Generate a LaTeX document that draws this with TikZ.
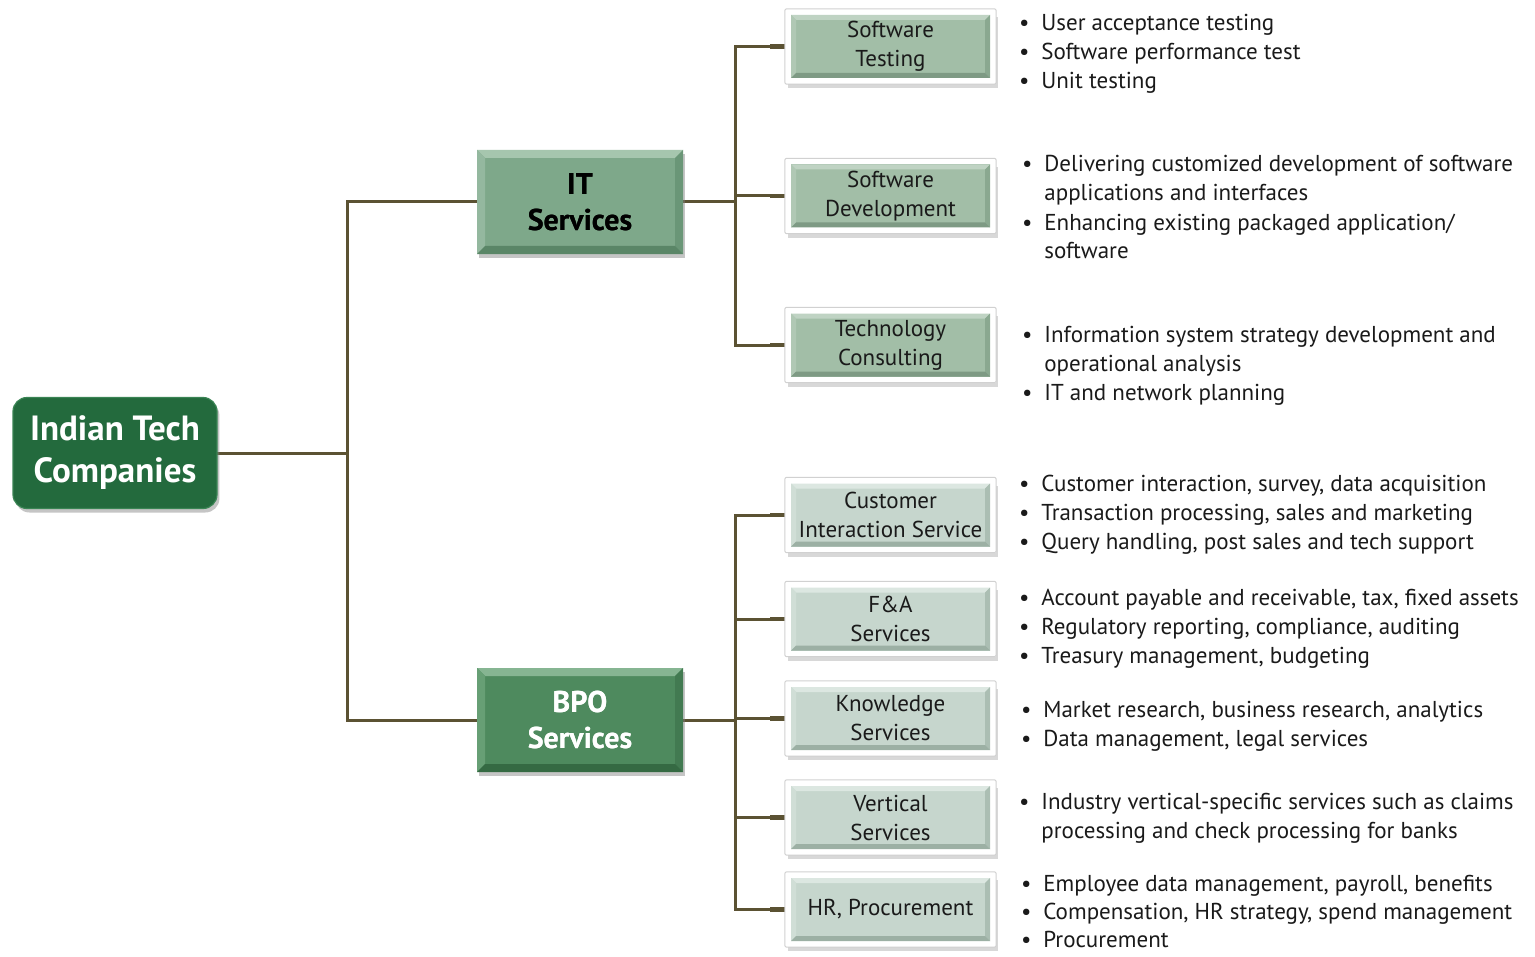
\documentclass[tikz,border=0pt]{standalone}
\usepackage{fontspec}
\setmainfont{PT Sans}
\usetikzlibrary{shadows}
\definecolor{linec}{HTML}{5B5233}
\definecolor{rootc}{HTML}{236A3D}
\definecolor{rootl}{HTML}{3A8454}
\definecolor{itc}{HTML}{7EA88A}
\definecolor{itt}{HTML}{A6C6AE}
\definecolor{itl}{HTML}{94B89F}
\definecolor{itr}{HTML}{6A9677}
\definecolor{itb}{HTML}{5A8667}
\definecolor{bpoc}{HTML}{4E8A5E}
\definecolor{bpot}{HTML}{86B592}
\definecolor{bpol}{HTML}{679F75}
\definecolor{bpor}{HTML}{427A51}
\definecolor{bpob}{HTML}{356A43}
\definecolor{lfa}{HTML}{A2BEA7}
\definecolor{lfat}{HTML}{BFD3C3}
\definecolor{lfal}{HTML}{B0C8B4}
\definecolor{lfar}{HTML}{8AA890}
\definecolor{lfab}{HTML}{7E9A84}
\definecolor{lfb}{HTML}{C6D6CD}
\definecolor{lfbt}{HTML}{DCE7E1}
\definecolor{lfbl}{HTML}{D0DED6}
\definecolor{lfbr}{HTML}{ABBEB3}
\definecolor{lfbb}{HTML}{9CB0A4}
\definecolor{txt}{HTML}{1A1A1A}
\pgfdeclarelayer{bg}
\pgfdeclarelayer{bgbg}
\pgfsetlayers{bgbg,bg,main}
% bevel: #1 node, #2 outer inset, #3 inner inset, #4 top, #5 left, #6 right, #7 bottom
\newcommand\bevelbox[7]{%
  \fill[#4] ([xshift=#2,yshift=-#2]#1.north west) -- ([xshift=-#2,yshift=-#2]#1.north east)
    -- ([xshift=-#3,yshift=-#3]#1.north east) -- ([xshift=#3,yshift=-#3]#1.north west) -- cycle;
  \fill[#5] ([xshift=#2,yshift=-#2]#1.north west) -- ([xshift=#3,yshift=-#3]#1.north west)
    -- ([xshift=#3,yshift=#3]#1.south west) -- ([xshift=#2,yshift=#2]#1.south west) -- cycle;
  \fill[#6] ([xshift=-#2,yshift=-#2]#1.north east) -- ([xshift=-#3,yshift=-#3]#1.north east)
    -- ([xshift=-#3,yshift=#3]#1.south east) -- ([xshift=-#2,yshift=#2]#1.south east) -- cycle;
  \fill[#7] ([xshift=#2,yshift=#2]#1.south west) -- ([xshift=-#2,yshift=#2]#1.south east)
    -- ([xshift=-#3,yshift=#3]#1.south east) -- ([xshift=#3,yshift=#3]#1.south west) -- cycle;
}
\newcommand\leafedge[1]{%
  \draw[black!18,line width=0.5pt,rounded corners=1pt] ([xshift=-1.6pt,yshift=1.6pt]#1.north west)
    rectangle ([xshift=1.6pt,yshift=-1.6pt]#1.south east);
}
\newcommand\blist[1]{\begin{tabular}[t]{@{}l@{\hspace{6pt}}l@{}}#1\end{tabular}}
\begin{document}
\begin{tikzpicture}[x=0.5pt,y=-0.5pt,
  conn/.style={draw=linec,line width=1.5pt},
  stub/.style={draw=linec,line width=2.4pt},
  shad/.style={drop shadow={opacity=0.45,shadow xshift=1.2pt,shadow yshift=-2pt}},
  lshad/.style={drop shadow={opacity=0.3,shadow xshift=1.2pt,shadow yshift=-3pt,shadow scale=1.025}},
  rootbox/.style={shape=rectangle,rounded corners=7pt,fill=rootc,draw=rootl,line width=0.6pt,
    minimum width=102pt,minimum height=55.5pt,inner sep=0pt,outer sep=0pt,text=white,
    font=\fontsize{17.5}{21}\selectfont\bfseries,align=center,shad},
  midbox/.style={shape=rectangle,minimum width=103pt,minimum height=52pt,inner sep=0pt,
    outer sep=0pt,font=\fontsize{15}{18}\selectfont\bfseries,align=center,shad},
  leaf/.style={shape=rectangle,draw=white,line width=3pt,minimum width=102.5pt,
    minimum height=34.5pt,inner sep=0pt,outer sep=0pt,text=txt,
    font=\fontsize{11.5}{14.5}\selectfont,align=center,lshad},
  bul/.style={anchor=base west,inner sep=0pt,outer sep=0pt,text=txt,
    font=\fontsize{11.5}{14.5}\selectfont}
]
\begin{pgfonlayer}{bgbg}
\fill[white] (0,0) rectangle (1535,957);
\end{pgfonlayer}
\useasboundingbox (0,0) rectangle (1535,957);

% nodes
\node[rootbox] (root) at (115,453) {Indian Tech\\Companies};
\node[midbox,fill=itc,text=black] (it) at (580,202) {IT\\Services};
\node[midbox,fill=bpoc,text=white] (bpo) at (580,720) {BPO\\Services};

\node[leaf,fill=lfa] (st) at (890.5,46.5) {Software\\Testing};
\node[leaf,fill=lfa] (sd) at (890.5,196) {Software\\Development};
\node[leaf,fill=lfa] (tc) at (890.5,345) {Technology\\Consulting};
\node[leaf,fill=lfb] (ci) at (890.5,515) {Customer\\Interaction Service};
\node[leaf,fill=lfb] (fa) at (890.5,619) {F\&A\\Services};
\node[leaf,fill=lfb] (ks) at (890.5,718.5) {Knowledge\\Services};
\node[leaf,fill=lfb] (vs) at (890.5,817.5) {Vertical\\Services};
\node[leaf,fill=lfb] (hr) at (890.5,909.5) {HR, Procurement};

% bevels
\bevelbox{it}{0pt}{4pt}{itt}{itl}{itr}{itb}
\bevelbox{bpo}{0pt}{4pt}{bpot}{bpol}{bpor}{bpob}
\foreach \n in {st,sd,tc}{\bevelbox{\n}{1.5pt}{4pt}{lfat}{lfal}{lfar}{lfab}\leafedge{\n}}
\foreach \n in {ci,fa,ks,vs,hr}{\bevelbox{\n}{1.5pt}{4pt}{lfbt}{lfbl}{lfbr}{lfbb}\leafedge{\n}}
% box texts above bevels
\node[font=\fontsize{15}{18}\selectfont\bfseries,align=center,text=black] at (it.center) {IT\\Services};
\node[font=\fontsize{15}{18}\selectfont\bfseries,align=center,text=white] at (bpo.center) {BPO\\Services};

% connectors
\coordinate (j1) at (347,453);
\coordinate (j2) at (735,202);
\coordinate (j3) at (735,720);
\begin{pgfonlayer}{bg}
\draw[conn] (root.east) -- (j1) |- (it.west);
\draw[conn] (j1) |- (bpo.west);
\draw[conn] (it.east) -- (j2);
\draw[conn] (j2) |- (st.west);
\draw[conn] (j2) |- (sd.west);
\draw[conn] (j2) |- (tc.west);
\draw[conn] (bpo.east) -- (j3);
\draw[conn] (j3) |- (ci.west);
\draw[conn] (j3) |- (fa.west);
\draw[conn] (j3) |- (ks.west);
\draw[conn] (j3) |- (vs.west);
\draw[conn] (j3) |- (hr.west);
\foreach \n in {st,sd,tc,ci,fa,ks,vs,hr}{\draw[stub] ([xshift=-9pt]\n.west) -- (\n.west);}
\end{pgfonlayer}

% bullet texts
\node[bul] (g1) at (1019,31) {\blist{•&User acceptance testing\\•&Software performance test\\•&Unit testing}};
\node[bul] (g2) at (1022,172) {\blist{•&Delivering customized development of software\\&applications and interfaces\\•&Enhancing existing packaged application/\\&software}};
\node[bul] (g3) at (1022,342) {\blist{•&Information system strategy development and\\&operational analysis\\•&IT and network planning}};
\node[bul] (g4) at (1019,491) {\blist{•&Customer interaction, survey, data acquisition\\•&Transaction processing, sales and marketing\\•&Query handling, post sales and tech support}};
\node[bul] (g5) at (1019,605) {\blist{•&Account payable and receivable, tax, fixed assets\\•&Regulatory reporting, compliance, auditing\\•&Treasury management, budgeting}};
\node[bul] (g6) at (1021,717) {\blist{•&Market research, business research, analytics\\•&Data management, legal services}};
\node[bul] (g7) at (1019,809) {\blist{•&Industry vertical-specific services such as claims\\&processing and check processing for banks}};
\node[bul,font=\fontsize{11.5}{14}\selectfont] (g8) at (1021,891) {\blist{•&Employee data management, payroll, benefits\\•&Compensation, HR strategy, spend management\\•&Procurement}};
\end{tikzpicture}
\end{document}
